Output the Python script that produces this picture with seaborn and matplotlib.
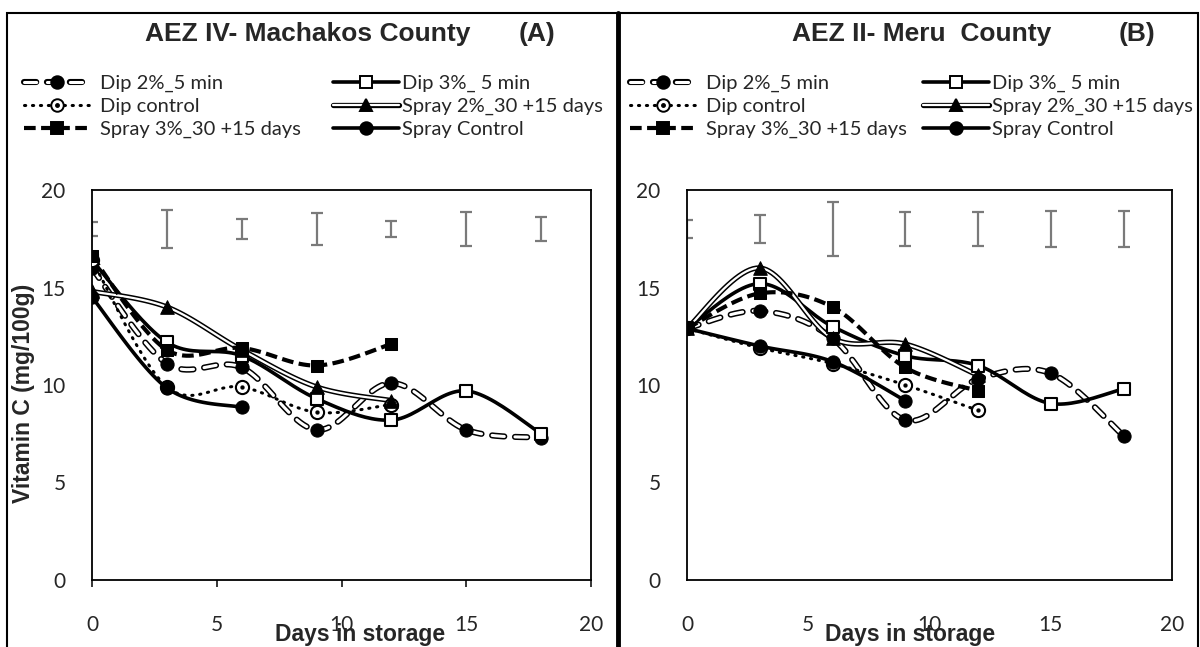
import numpy as np
import seaborn as sns
import matplotlib
matplotlib.use("Agg")
import matplotlib.pyplot as plt
import matplotlib.patheffects as pe
from matplotlib.lines import Line2D
from matplotlib.patches import Rectangle
from matplotlib.legend_handler import HandlerTuple

# Days in storage
days = [0, 3, 6, 9, 12, 15, 18]
days_12 = [0, 3, 6, 9, 12]
days_a_ctrl = [0, 3, 6]
days_b_ctrl = [0, 3, 6, 9]

# Panel A - AEZ IV Machakos County (Vitamin C, mg/100g)
a_dip2 = [16.0, 11.1, 10.9, 7.7, 10.1, 7.7, 7.3]
a_dip3 = [16.4, 12.2, 11.5, 9.3, 8.2, 9.7, 7.5]
a_dipc = [16.4, 9.9, 9.9, 8.6, 9.0]
a_spr2 = [14.8, 14.0, 11.8, 9.9, 9.2]
a_spr3 = [16.6, 11.8, 11.9, 11.0, 12.1]
a_sprc = [14.5, 9.85, 8.85]
a_lsd_mid = [18.0, 18.0, 18.0, 18.0, 18.0, 18.0, 18.0]
a_lsd_half = [0.34, 0.95, 0.53, 0.82, 0.39, 0.88, 0.64]

# Panel B - AEZ II Meru County
b_dip2 = [12.9, 13.8, 12.4, 8.2, 10.3, 10.6, 7.4]
b_dip3 = [12.9, 15.2, 13.0, 11.5, 11.0, 9.05, 9.8]
b_dipc = [12.9, 11.9, 11.1, 10.0, 8.7]
b_spr2 = [12.9, 16.0, 12.4, 12.1, 10.5]
b_spr3 = [12.9, 14.7, 14.0, 10.9, 9.7]
b_sprc = [12.9, 12.0, 11.2, 9.2]
b_lsd_mid = [18.0, 18.0, 18.0, 18.0, 18.0, 18.0, 18.0]
b_lsd_half = [0.45, 0.70, 1.36, 0.88, 0.86, 0.90, 0.90]

labels = ["Dip 2%_5 min", "Dip 3%_ 5 min", "Dip control",
          "Spray 2%_30 +15 days", "Spray 3%_30 +15 days", "Spray Control"]

sns.set_theme(style="white")
plt.rcParams['font.family'] = ['Lato', 'DejaVu Sans']
TITLE_FONT = ['Liberation Sans', 'DejaVu Sans']

W, H = 1200, 647


def fx(px):
    return px / W


def fy(py):
    return 1 - py / H


def smooth(x, y, n=24):
    """Excel-like smoothed line through the points (cubic Bezier, 1/6 tension)."""
    p = np.column_stack([x, y]).astype(float)
    ext = np.vstack([p[0], p, p[-1]])
    t = np.linspace(0, 1, n)[:, None]
    out = []
    for i in range(len(p) - 1):
        p0, p3 = ext[i + 1], ext[i + 2]
        c1 = p0 + (ext[i + 2] - ext[i]) / 6
        c2 = p3 - (ext[i + 3] - ext[i + 1]) / 6
        seg = ((1 - t) ** 3) * p0 + 3 * ((1 - t) ** 2) * t * c1 + 3 * (1 - t) * t ** 2 * c2 + t ** 3 * p3
        out.append(seg if i == 0 else seg[1:])
    out = np.vstack(out)
    return out[:, 0], out[:, 1]


hollow = [pe.Stroke(linewidth=4.4, foreground='black', capstyle='round'), pe.Normal()]
double = [pe.Stroke(linewidth=3.8, foreground='black'), pe.Normal()]

LINE_STYLES = {
    "dip2": dict(color='white', lw=2.2, linestyle=(0, (4, 3.5)), dash_capstyle='round', path_effects=hollow),
    "dip3": dict(color='black', lw=2.6, linestyle='-'),
    "dipc": dict(color='black', lw=2.2, linestyle=(0, (0.4, 2.2)), dash_capstyle='round'),
    "spr2": dict(color='white', lw=1.6, linestyle='-', path_effects=double),
    "spr3": dict(color='black', lw=3.0, linestyle=(0, (2.8, 1.3))),
    "sprc": dict(color='black', lw=2.6, linestyle='-'),
}
MARKERS = {
    "dip2": dict(marker='o', s=90, color='black', edgecolor='black'),
    "dip3": dict(marker='s', s=85, color='white', edgecolor='black', linewidth=1.5),
    "dipc": dict(marker='o', s=90, color='white', edgecolor='black', linewidth=1.5),
    "spr2": dict(marker='^', s=95, color='black', edgecolor='black'),
    "spr3": dict(marker='s', s=85, color='black', edgecolor='black'),
    "sprc": dict(marker='o', s=90, color='black', edgecolor='black'),
}


def draw_series(ax, key, x, y, z):
    xs, ys = smooth(x, y)
    sns.lineplot(x=xs, y=ys, ax=ax, sort=False, estimator=None, legend=False, zorder=3, **LINE_STYLES[key])
    sns.scatterplot(x=x, y=y, ax=ax, legend=False, zorder=z, **MARKERS[key])
    if key == "dipc":
        sns.scatterplot(x=x, y=y, ax=ax, legend=False, zorder=z + 0.05, marker='o', s=8,
                        color='black', edgecolor='black')


def draw_panel(ax, series, lsd_mid, lsd_half, xticks_out):
    ax.errorbar(days, lsd_mid, yerr=lsd_half, fmt='none', ecolor='#7a7a7a',
                elinewidth=1.6, capsize=4.5, capthick=1.6, zorder=2)
    for i, (key, x, y) in enumerate(series):
        draw_series(ax, key, x, y, 4 + i * 0.1)
    ax.set_xlim(0, 20)
    ax.set_ylim(0, 20)
    ax.set_xticks([0, 5, 10, 15, 20])
    ax.set_yticks([0, 5, 10, 15, 20])
    ax.set_xlabel("")
    ax.set_ylabel("")
    for s in ax.spines.values():
        s.set_color('black')
        s.set_linewidth(1.3)
    ax.tick_params(axis='y', length=0, pad=19, labelsize=15)
    if xticks_out:
        ax.tick_params(axis='x', bottom=True, direction='out', length=5, width=1.3, pad=20, labelsize=15)
    else:
        ax.tick_params(axis='x', length=0, pad=25, labelsize=15)
    ax.set_facecolor('white')


def legend_handle(key):
    line = Line2D([], [], **LINE_STYLES[key])
    mk = MARKERS[key]
    marker = Line2D([], [], linestyle='none', marker=mk['marker'], markersize=9,
                    markerfacecolor=mk['color'], markeredgecolor='black', markeredgewidth=1.4)
    if key == "dipc":
        dot = Line2D([], [], linestyle='none', marker='o', markersize=2.5,
                     markerfacecolor='black', markeredgecolor='black')
        return (line, marker, dot)
    return (line, marker)


fig = plt.figure(figsize=(12, 6.47), dpi=100)
fig.patch.set_facecolor('white')

ax_a = fig.add_axes([fx(92), fy(580), fx(591) - fx(92), (580 - 190) / H])
ax_b = fig.add_axes([fx(687), fy(580), fx(1172) - fx(687), (580 - 190) / H])

draw_panel(ax_a, [("dip2", days, a_dip2), ("dip3", days, a_dip3), ("dipc", days_12, a_dipc),
                  ("spr2", days_12, a_spr2), ("spr3", days_12, a_spr3), ("sprc", days_a_ctrl, a_sprc)],
           a_lsd_mid, a_lsd_half, True)
draw_panel(ax_b, [("dip2", days, b_dip2), ("dip3", days, b_dip3), ("dipc", days_12, b_dipc),
                  ("spr2", days_12, b_spr2), ("spr3", days_12, b_spr3), ("sprc", days_b_ctrl, b_sprc)],
           b_lsd_mid, b_lsd_half, False)

# panel frames
fig.add_artist(Rectangle((fx(7), -0.05), fx(618) - fx(7), fy(13) + 0.05, transform=fig.transFigure,
                         fill=False, ec='black', lw=1.5))
fig.add_artist(Rectangle((fx(618), -0.05), fx(1198) - fx(618), fy(13) + 0.05, transform=fig.transFigure,
                         fill=False, ec='black', lw=1.5))
fig.add_artist(Line2D([fx(618), fx(618)], [-0.05, fy(13)], transform=fig.transFigure, color='black', lw=3.5))

# titles
title_kw = dict(ha='center', va='center', fontfamily=TITLE_FONT, fontweight='bold', fontsize=19)
fig.text(fx(308), fy(34), "AEZ IV- Machakos County", **title_kw)
fig.text(fx(537), fy(34), "(A)", **title_kw)
fig.text(fx(922), fy(34), "AEZ II- Meru  County", **title_kw)
fig.text(fx(1137), fy(34), "(B)", **title_kw)

# axis labels
lab_kw = dict(ha='center', fontfamily=TITLE_FONT, fontweight='bold', fontsize=16.5)
fig.text(fx(24), fy(393), "Vitamin C (mg/100g)", rotation=90, va='center', **lab_kw)
fig.text(fx(360), fy(641), "Days in storage", va='baseline', **lab_kw)
fig.text(fx(910), fy(641), "Days in storage", va='baseline', **lab_kw)

# legends (two columns per panel)
order = ["dip2", "dip3", "dipc", "spr2", "spr3", "sprc"]
columns = [["dip2", "dipc", "spr3"], ["dip3", "spr2", "sprc"]]
for starts in [(24, 333), (630, 923)]:
    for c, keys in enumerate(columns):
        hs = [legend_handle(k) for k in keys]
        ls = [labels[order.index(k)] for k in keys]
        fig.legend(hs, ls, loc='upper left', bbox_to_anchor=(fx(starts[c]), fy(75)),
                   frameon=False, borderpad=0, borderaxespad=0, fontsize=14.5,
                   handlelength=3.3, handletextpad=0.45 if c == 0 else 0.15, labelspacing=0.28,
                   handler_map={tuple: HandlerTuple(ndivide=1)})

fig.savefig("out.png", dpi=100, facecolor='white')
